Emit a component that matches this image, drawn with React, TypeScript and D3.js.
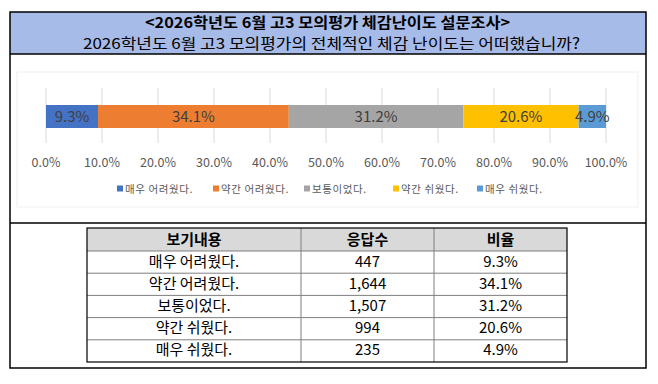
import React, { useRef, useEffect } from 'react';
import * as d3 from 'd3';

// 설문 데이터
const categories = ['매우 어려웠다.', '약간 어려웠다.', '보통이었다.', '약간 쉬웠다.', '매우 쉬웠다.'];
const counts = [447, 1644, 1507, 994, 235];
const percents = [9.3, 34.1, 31.2, 20.6, 4.9];
const colors = ['#4472C4', '#ED7D31', '#A5A5A5', '#FFC000', '#5B9BD5'];
const xTicks = [0, 10, 20, 30, 40, 50, 60, 70, 80, 90, 100];
const tableHeader = ['보기내용', '응답수', '비율'];

const title = '<2026학년도 6월 고3 모의평가 체감난이도 설문조사>';
const subtitle = '2026학년도 6월 고3 모의평가의 전체적인 체감 난이도는 어떠했습니까?';

const FONT = "'Noto Sans CJK KR', 'Malgun Gothic', sans-serif";

const App = () => {
  const ref = useRef<SVGSVGElement>(null);

  useEffect(() => {
    const svg = d3.select(ref.current);
    svg.selectAll('*').remove();
    svg.style('font-family', FONT);

    // 바깥 박스와 제목 영역
    svg.append('rect').attr('x', 10).attr('y', 12).attr('width', 636).attr('height', 42)
      .attr('fill', '#A7BBE8');
    svg.append('rect').attr('x', 10).attr('y', 12).attr('width', 636).attr('height', 356)
      .attr('fill', 'none').attr('stroke', '#000').attr('stroke-width', 1.5);
    svg.append('line').attr('x1', 10).attr('x2', 646).attr('y1', 54).attr('y2', 54)
      .attr('stroke', '#000').attr('stroke-width', 1.5);
    svg.append('line').attr('x1', 10).attr('x2', 646).attr('y1', 223).attr('y2', 223)
      .attr('stroke', '#000').attr('stroke-width', 1.5);

    svg.append('text').attr('x', 327.5).attr('y', 28).attr('text-anchor', 'middle')
      .attr('font-size', 15).attr('font-weight', 'bold').attr('fill', '#000')
      .attr('textLength', 365).attr('lengthAdjust', 'spacingAndGlyphs').text(title);
    svg.append('text').attr('x', 331.5).attr('y', 48.5).attr('text-anchor', 'middle')
      .attr('font-size', 15).attr('fill', '#000')
      .attr('textLength', 497).attr('lengthAdjust', 'spacingAndGlyphs').text(subtitle);

    // 차트 영역 테두리(희미함)
    svg.append('rect').attr('x', 17).attr('y', 72).attr('width', 621).attr('height', 135)
      .attr('fill', 'none').attr('stroke', '#f0f0f0');

    const xScale = d3.scaleLinear().domain([0, 100]).range([46, 606]);
    const barY = 105;
    const barH = 23;

    // 세로 눈금선
    svg.append('g').selectAll('line').data(xTicks).enter().append('line')
      .attr('x1', d => xScale(d)).attr('x2', d => xScale(d))
      .attr('y1', 88).attr('y2', 143)
      .attr('stroke', '#D9D9D9').attr('stroke-width', 1);

    // 누적 막대
    const total = d3.sum(percents);
    const starts = percents.map((_, i) => d3.sum(percents.slice(0, i)) / total * 100);
    const widths = percents.map(p => p / total * 100);

    const g = svg.append('g');
    g.selectAll('rect').data(percents).enter().append('rect')
      .attr('x', (_, i) => xScale(starts[i]))
      .attr('y', barY)
      .attr('width', (_, i) => xScale(starts[i] + widths[i]) - xScale(starts[i]))
      .attr('height', barH)
      .attr('fill', (_, i) => colors[i]);

    g.selectAll('text').data(percents).enter().append('text')
      .attr('x', (_, i) => xScale(starts[i] + widths[i] / 2))
      .attr('y', barY + barH / 2 + 5.5)
      .attr('text-anchor', 'middle')
      .attr('font-size', 15)
      .attr('fill', '#404040')
      .text(d => d.toFixed(1) + '%');

    // x축 눈금 라벨
    svg.append('g').selectAll('text').data(xTicks).enter().append('text')
      .attr('x', d => xScale(d)).attr('y', 166.5)
      .attr('text-anchor', 'middle').attr('font-size', 12.5).attr('fill', '#595959')
      .text(d => d.toFixed(1) + '%');

    // 범례
    const legendX = [117, 213, 304, 393, 477];
    const legend = svg.append('g').selectAll('g').data(categories).enter().append('g')
      .attr('transform', (_, i) => `translate(${legendX[i]}, 189)`);
    legend.append('rect').attr('x', 0).attr('y', -3.5).attr('width', 6).attr('height', 6)
      .attr('fill', (_, i) => colors[i]);
    legend.append('text').attr('x', 8).attr('y', 4).attr('font-size', 10.5)
      .attr('fill', '#595959').attr('letter-spacing', 0.6).text(d => d);

    // 표
    const colX = [87, 301, 434, 567];
    const rowY = [228, 251, 273.2, 295.4, 317.6, 339.8, 362];
    const t = svg.append('g');
    t.append('rect').attr('x', colX[0]).attr('y', rowY[0])
      .attr('width', colX[3] - colX[0]).attr('height', rowY[1] - rowY[0]).attr('fill', '#D9D9D9');
    rowY.slice(1, -1).forEach(y => {
      t.append('line').attr('x1', colX[0]).attr('x2', colX[3]).attr('y1', y).attr('y2', y)
        .attr('stroke', '#7F7F7F').attr('stroke-width', 1);
    });
    colX.slice(1, -1).forEach(x => {
      t.append('line').attr('x1', x).attr('x2', x).attr('y1', rowY[0]).attr('y2', rowY[6])
        .attr('stroke', '#7F7F7F').attr('stroke-width', 1);
    });
    t.append('rect').attr('x', colX[0]).attr('y', rowY[0])
      .attr('width', colX[3] - colX[0]).attr('height', rowY[6] - rowY[0])
      .attr('fill', 'none').attr('stroke', '#000').attr('stroke-width', 1.2);

    const colMid = colX.slice(0, 3).map((x, i) => (x + colX[i + 1]) / 2);
    tableHeader.forEach((h, i) => {
      t.append('text').attr('x', colMid[i]).attr('y', (rowY[0] + rowY[1]) / 2 + 5)
        .attr('text-anchor', 'middle').attr('font-size', 15).attr('font-weight', 'bold')
        .attr('fill', '#000').text(h);
    });
    const fmt = d3.format(',');
    categories.forEach((c, r) => {
      const cy = (rowY[r + 1] + rowY[r + 2]) / 2 + 4.5;
      const cells = [c, fmt(counts[r]), percents[r].toFixed(1) + '%'];
      cells.forEach((v, i) => {
        t.append('text').attr('x', colMid[i]).attr('y', cy)
          .attr('text-anchor', 'middle').attr('font-size', 15)
          .attr('fill', '#000').text(v);
      });
    });
  }, []);

  return (
    <svg ref={ref} width={658} height={384}
      style={{ position: 'absolute', left: 0, top: 0, background: '#fff' }} />
  );
};

export default App;
